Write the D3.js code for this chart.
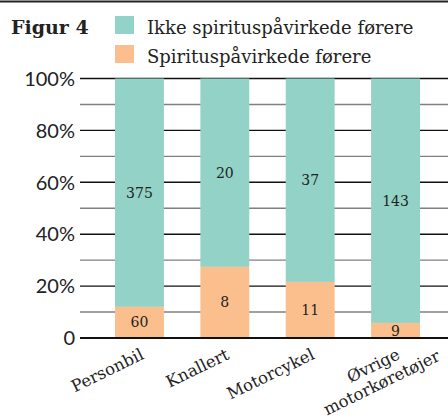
<!DOCTYPE html>
<html>
<head>
<meta charset="utf-8">
<script src="https://cdn.jsdelivr.net/npm/d3@7"></script>
<style>
  body { margin: 0; background: #fff; }
  svg { display: block; }
</style>
</head>
<body>
<svg width="448" height="419"></svg>
<script>
const categories = ["Personbil", "Knallert", "Motorcykel", "Øvrige\nmotorkøretøjer"];
// counts shown as labels
const drunkCount = [60, 8, 11, 9];
const soberCount = [375, 20, 37, 143];
// share of drunk drivers (%) as drawn
const drunkShare = [12.0, 27.4, 21.6, 5.8];
const yTicks = [0, 20, 40, 60, 80, 100];
const yTickLabels = ["0", "20%", "40%", "60%", "80%", "100%"];
const seriesNames = ["Ikke spirituspåvirkede førere", "Spirituspåvirkede førere"];

const teal = "#93d2c6";
const orange = "#fbbf8e";
const serif = "DejaVu Serif";

const svg = d3.select("svg");
const width = +svg.attr("width");

const data = categories.map((c, i) => ({
  cat: c,
  drunk: drunkShare[i],
  sober: 100 - drunkShare[i],
  drunkN: drunkCount[i],
  soberN: soberCount[i],
}));

const xScale = d3
  .scaleBand()
  .domain(categories)
  .range([80, 455])
  .paddingInner(0.427)
  .paddingOuter(0.41);

const yScale = d3.scaleLinear().domain([0, 100]).range([338, 78.5]);

// top rule
svg.append("line")
  .attr("x1", 0).attr("x2", width)
  .attr("y1", 1.5).attr("y2", 1.5)
  .attr("stroke", "#222").attr("stroke-width", 2);

// title
svg.append("text")
  .attr("x", 11).attr("y", 34)
  .attr("font-family", serif).attr("font-weight", "bold")
  .attr("font-size", 19).attr("fill", "#222")
  .text("Figur 4");

// legend
const legend = svg.selectAll("g.legend")
  .data(seriesNames)
  .enter().append("g")
  .attr("class", "legend")
  .attr("transform", (d, i) => `translate(115, ${16 + i * 29})`);

legend.append("rect")
  .attr("width", 19).attr("height", 18)
  .attr("fill", (d, i) => (i === 0 ? teal : orange));

legend.append("text")
  .attr("x", 32).attr("y", 18)
  .attr("font-family", serif).attr("font-size", 18).attr("fill", "#222")
  .text((d) => d);

// grid lines
const grid = d3.range(10, 101, 10);
svg.append("g").selectAll("line")
  .data(grid)
  .enter().append("line")
  .attr("x1", 80).attr("x2", width)
  .attr("y1", (d) => yScale(d)).attr("y2", (d) => yScale(d))
  .attr("stroke", (d) => (d % 20 === 0 ? "#111" : "#808080"))
  .attr("stroke-width", 1.4);

// y tick labels
svg.append("g").selectAll("text")
  .data(yTicks)
  .enter().append("text")
  .attr("x", 75)
  .attr("y", (d) => yScale(d))
  .attr("dy", "0.36em")
  .attr("text-anchor", "end")
  .attr("font-family", "Lato").attr("font-size", 20).attr("fill", "#222")
  .text((d, i) => yTickLabels[i]);

// bars
const bars = svg.append("g").selectAll("g")
  .data(data)
  .enter().append("g");

bars.append("rect")
  .attr("x", (d) => xScale(d.cat))
  .attr("width", xScale.bandwidth())
  .attr("y", (d) => yScale(100))
  .attr("height", (d) => yScale(d.drunk) - yScale(100))
  .attr("fill", teal);

bars.append("rect")
  .attr("x", (d) => xScale(d.cat))
  .attr("width", xScale.bandwidth())
  .attr("y", (d) => yScale(d.drunk))
  .attr("height", (d) => yScale(0) - yScale(d.drunk))
  .attr("fill", orange);

bars.append("text")
  .attr("x", (d) => xScale(d.cat) + xScale.bandwidth() / 2)
  .attr("y", (d) => yScale(d.drunk + d.sober / 2))
  .attr("dy", "0.36em")
  .attr("text-anchor", "middle")
  .attr("font-family", serif).attr("font-size", 14).attr("fill", "#222")
  .text((d) => d.soberN);

bars.append("text")
  .attr("x", (d) => xScale(d.cat) + xScale.bandwidth() / 2)
  .attr("y", (d) => yScale(d.drunk / 2))
  .attr("dy", "0.36em")
  .attr("text-anchor", "middle")
  .attr("font-family", serif).attr("font-size", 14).attr("fill", "#222")
  .text((d) => d.drunkN);

// baseline
svg.append("line")
  .attr("x1", 80).attr("x2", width)
  .attr("y1", yScale(0)).attr("y2", yScale(0))
  .attr("stroke", "#111").attr("stroke-width", 2);

// x labels, rotated
const xLabels = svg.append("g").selectAll("g")
  .data(categories)
  .enter().append("g")
  .attr("transform", (d) => `translate(${xScale(d) + xScale.bandwidth() / 2}, 347) rotate(-26)`);

xLabels.each(function (d) {
  const g = d3.select(this);
  const lines = d.split("\n");
  const t = g.append("text")
    .attr("font-family", serif).attr("font-size", 16.5).attr("fill", "#222")
    .attr("text-anchor", "middle");
  const first = t.append("tspan").text(lines[0]);
  const w1 = first.node().getComputedTextLength();
  t.selectAll("tspan").remove();
  lines.forEach((line, i) => {
    t.append("tspan")
      .attr("x", -w1 / 2)
      .attr("y", i * 19)
      .attr("dy", "0.76em")
      .text(line);
  });
});
</script>
</body>
</html>
